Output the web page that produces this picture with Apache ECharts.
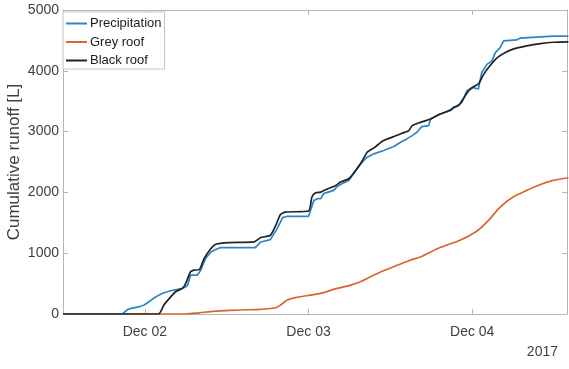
<!DOCTYPE html>
<html>
<head>
<meta charset="utf-8">
<script src="https://cdn.jsdelivr.net/npm/echarts@6/dist/echarts.min.js"></script>
<style>html,body{margin:0;padding:0;background:#fff}#c{width:569px;height:369px}</style>
</head>
<body>
<div id="c"></div>
<script>
// Hours since 2017-12-01 00:00
const tickHours = [24, 48, 72];
const tickLabels = ['Dec 02', 'Dec 03', 'Dec 04'];
const yearLabel = '2017';
const seriesNames = ['Precipitation', 'Grey roof', 'Black roof'];

const precipHours = [12, 20.7, 21.5, 22.2, 23.2, 23.9, 24.6, 25.4, 26.1, 26.8, 27.8, 28.8, 29.5, 30.0, 30.3, 30.7, 31.7, 32.2, 32.9, 33.7, 34.4, 35.1, 40.2, 41.0, 42.4, 43.4, 44.2, 44.9, 48.0, 48.8, 49.3, 49.8, 50.2, 51.7, 52.2, 52.9, 53.9, 55.1, 55.9, 56.6, 57.6, 59.0, 60.5, 61.5, 62.4, 63.2, 63.9, 64.6, 65.6, 65.9, 67.3, 68.8, 69.3, 70.5, 71.2, 72.0, 72.9, 73.4, 74.2, 74.9, 75.4, 76.1, 76.6, 78.5, 79.0, 82.0, 83.9, 86.1];
const precipValues = [0, 0, 77, 98, 120, 148, 202, 268, 311, 350, 382, 404, 421, 448, 480, 640, 640, 721, 913, 1021, 1061, 1093, 1093, 1185, 1224, 1405, 1585, 1607, 1607, 1869, 1897, 1897, 1979, 2033, 2098, 2143, 2197, 2388, 2500, 2579, 2634, 2689, 2754, 2825, 2880, 2934, 2989, 3082, 3098, 3208, 3290, 3344, 3388, 3480, 3672, 3727, 3700, 3972, 4110, 4164, 4300, 4382, 4492, 4508, 4536, 4557, 4569, 4569];

const greyHours = [12, 30.0, 32.0, 33.7, 35.1, 38.0, 41.0, 43.2, 43.9, 44.9, 46.3, 48.3, 49.8, 52.2, 54.2, 55.6, 57.1, 59.0, 61.0, 62.9, 64.4, 67.3, 70.2, 72.7, 74.4, 76.1, 78.0, 80.0, 82.0, 83.9, 86.1];
const greyValues = [0, 0, 20, 40, 50, 66, 77, 103, 148, 230, 274, 311, 339, 421, 475, 530, 612, 710, 803, 885, 939, 1093, 1213, 1366, 1541, 1759, 1923, 2033, 2131, 2197, 2241];

const blackHours = [12, 26.0, 26.8, 27.6, 28.5, 29.5, 30.0, 30.7, 31.2, 32.0, 32.7, 33.7, 34.4, 36.3, 40.0, 41.0, 42.4, 43.2, 43.9, 44.6, 48.0, 48.5, 49.0, 49.8, 50.5, 51.2, 52.0, 52.7, 53.9, 55.1, 55.9, 56.6, 57.6, 59.0, 60.5, 61.7, 62.7, 63.2, 64.4, 65.9, 67.3, 68.8, 69.3, 70.0, 70.5, 71.5, 72.2, 72.9, 73.7, 74.6, 75.6, 76.6, 78.0, 80.0, 82.0, 83.9, 86.1];
const blackValues = [0, 0, 148, 257, 366, 421, 503, 694, 721, 732, 913, 1077, 1148, 1175, 1185, 1257, 1295, 1459, 1639, 1677, 1694, 1924, 1989, 2005, 2044, 2077, 2115, 2170, 2224, 2388, 2525, 2661, 2733, 2852, 2918, 2972, 3016, 3098, 3152, 3208, 3290, 3356, 3400, 3426, 3508, 3672, 3738, 3782, 3946, 4082, 4208, 4285, 4356, 4410, 4448, 4470, 4475];

const xMin = 12, xMax = 85.9;
const yMin = 0, yMax = 5000, yStep = 1000;

const pairs = (xs, ys) => xs.map((x, i) => [x, ys[i]]);
const font = "'Liberation Sans', Arial, sans-serif";
const frame = '#b5b5b5';
const txt = '#404040';

const chart = echarts.init(document.getElementById('c'), null, {renderer: 'canvas'});
chart.setOption({
  animation: false,
  backgroundColor: '#fff',
  textStyle: {fontFamily: font},
  grid: {left: 63, right: 2, top: 10, bottom: 55, containLabel: false, outerBoundsMode: 'none'},
  legend: {
    orient: 'vertical', left: 63, top: 12,
    data: seriesNames,
    icon: 'rect', itemWidth: 21, itemHeight: 2, itemGap: 3.5,
    padding: [4, 3, 1, 3],
    borderColor: '#c4c4c4', borderWidth: 1, backgroundColor: '#fff',
    textStyle: {fontSize: 13, color: '#1a1a1a', fontFamily: font, lineHeight: 15, padding: [0, 0, 0, -2]}
  },
  xAxis: [{
    type: 'value', min: xMin, max: xMax,
    axisLine: {show: true, lineStyle: {color: frame}},
    axisTick: {show: true, inside: true, length: 5, customValues: tickHours, lineStyle: {color: frame}},
    axisLabel: {customValues: tickHours, fontSize: 14, color: txt, fontFamily: font, margin: 11,
      formatter: v => tickLabels[tickHours.indexOf(v)] || ''},
    splitLine: {show: false}
  }, {
    type: 'value', min: xMin, max: xMax, position: 'top',
    axisLine: {show: true, onZero: false, lineStyle: {color: frame}},
    axisTick: {show: true, inside: true, length: 5, customValues: tickHours, lineStyle: {color: frame}},
    axisLabel: {show: false},
    splitLine: {show: false}
  }],
  yAxis: [{
    type: 'value', min: yMin, max: yMax, interval: yStep,
    name: 'Cumulative runoff [L]', nameLocation: 'middle', nameGap: 40, nameMoveOverlap: false,
    nameTextStyle: {fontSize: 17, color: txt, fontFamily: font},
    axisLine: {show: true, lineStyle: {color: frame}},
    axisTick: {show: true, inside: true, length: 5, lineStyle: {color: frame}},
    axisLabel: {fontSize: 14, color: txt, fontFamily: font, margin: 4, formatter: v => String(v)},
    splitLine: {show: false}
  }, {
    type: 'value', min: yMin, max: yMax, interval: yStep, position: 'right',
    axisLine: {show: true, onZero: false, lineStyle: {color: frame}},
    axisTick: {show: true, inside: true, length: 5, lineStyle: {color: frame}},
    axisLabel: {show: false},
    splitLine: {show: false}
  }],
  graphic: [{
    type: 'text', right: 11, top: 345,
    style: {text: yearLabel, font: '14px ' + font, fill: txt}
  }],
  series: [
    {name: seriesNames[0], type: 'line', data: pairs(precipHours, precipValues), showSymbol: false, smooth: false,
      lineStyle: {color: '#2b86c5', width: 1.7}, itemStyle: {color: '#2b86c5'}, z: 3},
    {name: seriesNames[1], type: 'line', data: pairs(greyHours, greyValues), showSymbol: false, smooth: 0.3,
      lineStyle: {color: '#d9652e', width: 1.7}, itemStyle: {color: '#d9652e'}, z: 2},
    {name: seriesNames[2], type: 'line', data: pairs(blackHours, blackValues), showSymbol: false, smooth: 0.2,
      lineStyle: {color: '#222', width: 1.7}, itemStyle: {color: '#222'}, z: 4}
  ]
});
</script>
</body>
</html>
